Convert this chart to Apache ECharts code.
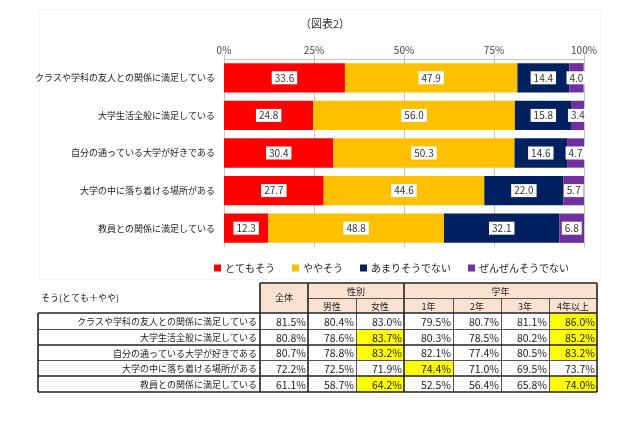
<!DOCTYPE html>
<html><head><meta charset="utf-8">
<script src="https://cdn.jsdelivr.net/npm/echarts@6/dist/echarts.min.js"></script>
<style>html,body{margin:0;padding:0;background:#fff}#main{width:640px;height:426px}</style>
</head><body><div id="main"></div>
<script>
// ---------- data ----------
const chartTitle = '（図表2）';
const categories = [
  'クラスや学科の友人との関係に満足している',
  '大学生活全般に満足している',
  '自分の通っている大学が好きである',
  '大学の中に落ち着ける場所がある',
  '教員との関係に満足している'
];
const seriesNames = ['とてもそう', 'ややそう', 'あまりそうでない', 'ぜんぜんそうでない'];
const totemo = [33.6, 24.8, 30.4, 27.7, 12.3];
const yaya   = [47.9, 56.0, 50.3, 44.6, 48.8];
const amari  = [14.4, 15.8, 14.6, 22.0, 32.1];
const zenzen = [4.0, 3.4, 4.7, 5.7, 6.8];
const seriesColors = ['#FF0000', '#FFC000', '#002060', '#7030A0'];

const tableCaption = 'そう(とても＋やや)';
const tableColumns = ['全体', '男性', '女性', '1年', '2年', '3年', '4年以上'];
const tableGroups = [{ name: '性別', from: 1, to: 2 }, { name: '学年', from: 3, to: 6 }];
const colAll   = [81.5, 80.8, 80.7, 72.2, 61.1];
const colMale  = [80.4, 78.6, 78.8, 72.5, 58.7];
const colFemale= [83.0, 83.7, 83.2, 71.9, 64.2];
const colY1    = [79.5, 80.3, 82.1, 74.4, 52.5];
const colY2    = [80.7, 78.5, 77.4, 71.0, 56.4];
const colY3    = [81.1, 80.2, 80.5, 69.5, 65.8];
const colY4    = [86.0, 85.2, 83.2, 73.7, 74.0];
const tableValues = [colAll, colMale, colFemale, colY1, colY2, colY3, colY4];
const highlightCells = [[2,1],[2,2],[2,4],[3,3],[6,0],[6,1],[6,2],[6,4]];

// ---------- build ----------
const FONT = '"Noto Sans CJK JP", "Noto Sans", sans-serif';
const barData = [totemo, yaya, amari, zenzen];

const cellData = [];
tableValues.forEach((col, c) => col.forEach((v, r) => {
  const h = highlightCells.some(p => p[0] === c && p[1] === r) ? 1 : 0;
  cellData.push([c, r, v, h]);
}));

function renderCell(params, api) {
  const c = api.value(0), r = api.value(1), v = api.value(2), h = api.value(3);
  const p = api.coord([c, r]);
  const s = api.size([1, 1]);
  const x0 = Math.round(p[0] - s[0] / 2), x1 = Math.round(p[0] + s[0] / 2);
  const y0 = Math.round(p[1] - s[1] / 2), y1 = Math.round(p[1] + s[1] / 2);
  return {
    type: 'group',
    children: [
      { type: 'rect', shape: { x: x0, y: y0, width: x1 - x0, height: y1 - y0 },
        style: { fill: h ? '#FFFF00' : '#FFFFFF', stroke: null } },
      { type: 'text', style: { text: v.toFixed(1) + '%', x: x1 - 2, y: (y0 + y1) / 2 + 1,
        align: 'right', verticalAlign: 'middle', font: '10.5px ' + FONT, fill: '#222' } }
    ]
  };
}

function renderFrame(params, api) {
  const p0 = api.coord([0, 0]);
  const s = api.size([1, 1]);
  const cw = s[0], rh = s[1];
  const nC = tableColumns.length, nR = categories.length;
  const X = i => Math.round(p0[0] - cw / 2 + cw * i);
  const Y = j => Math.round(p0[1] - rh / 2 + rh * j);
  const hh = 15, lx = 38;
  const top = Y(0) - 2 * hh, mid = Y(0) - hh;
  const ch = [];
  const txt = (t, x, y, align, size) => ch.push({ type: 'text', style: { text: t, x, y,
    align: align || 'center', verticalAlign: 'middle', font: (size || 9) + 'px ' + FONT, fill: '#222' } });
  const line = (x1, y1, x2, y2, w, col) => ch.push({ type: 'line',
    shape: { x1, y1, x2, y2 }, style: { stroke: col || '#222', lineWidth: w } });
  // header background
  ch.push({ type: 'rect', shape: { x: X(0), y: top, width: X(nC) - X(0), height: 2 * hh },
    style: { fill: '#FBE2D0' } });
  txt(tableCaption, 41, mid, 'left', 9);
  txt(tableColumns[0], (X(0) + X(1)) / 2, mid, 'center', 9);
  tableGroups.forEach(g => txt(g.name, (X(g.from) + X(g.to + 1)) / 2, top + hh / 2 + 1, 'center', 9));
  for (let i = 1; i < nC; i++) txt(tableColumns[i], (X(i) + X(i + 1)) / 2, mid + hh / 2 + 1, 'center', 9);
  // row label column
  for (let r = 0; r < nR; r++) txt(categories[r], X(0) - 3, (Y(r) + Y(r + 1)) / 2 + 1, 'right', 9);
  // thin lines
  line(X(1), mid + 0.5, X(nC), mid + 0.5, 1, '#555');
  [2, 4, 5, 6].forEach(i => line(X(i) + 0.5, mid, X(i) + 0.5, Y(nR), 1, '#555'));
  [1, 3].forEach(j => line(lx, Y(j) + 0.5, X(nC), Y(j) + 0.5, 1, '#555'));
  // thick lines
  [2, 4].forEach(j => line(lx, Y(j), X(nC), Y(j), 1.6));
  [1, 3].forEach(i => line(X(i), top, X(i), Y(nR), 1.6));
  line(X(0), top, X(0), Y(nR), 1.6);
  line(X(0), top, X(nC), top, 1.6);
  line(X(nC), top, X(nC), Y(nR), 1.6);
  line(lx, Y(0), X(nC), Y(0), 1.6);
  line(lx, Y(nR), X(nC), Y(nR), 1.6);
  line(lx, Y(0), lx, Y(nR), 1.6);
  return { type: 'group', children: ch };
}

const chart = echarts.init(document.getElementById('main'), null, { renderer: 'canvas' });
chart.setOption({
  animation: false,
  backgroundColor: '#fff',
  textStyle: { fontFamily: FONT },
  title: { text: chartTitle, left: 320, textAlign: 'center', top: 13,
    textStyle: { fontSize: 11, fontWeight: 'normal', color: '#333', fontFamily: FONT } },
  graphic: [{ type: 'rect', left: 37, top: 7, shape: { width: 561, height: 270 },
    style: { fill: null, stroke: '#f3f3f3', lineWidth: 1 }, silent: true, z: -1 }],
  legend: { data: seriesNames, left: 209, top: 258, itemWidth: 7, itemHeight: 7, itemGap: 17,
    icon: 'rect', textStyle: { fontSize: 10, color: '#222', fontFamily: FONT, padding: [0, 0, 0, -1] } },
  grid: [
    { left: 224, width: 360, top: 59, height: 188, containLabel: false },
    { left: 260, right: 43, top: 313, height: 79, containLabel: false }
  ],
  xAxis: [
    { type: 'value', gridIndex: 0, position: 'top', min: 0, max: 100, interval: 25,
      axisLabel: { formatter: '{value}%', fontSize: 10, color: '#444', margin: 4, fontFamily: FONT },
      axisLine: { show: true, lineStyle: { color: '#c4c4c4' } },
      axisTick: { show: true, length: 4, lineStyle: { color: '#c4c4c4' } },
      splitLine: { show: true, lineStyle: { color: '#c4c4c4' } } },
    { type: 'category', gridIndex: 1, data: tableColumns, show: false }
  ],
  yAxis: [
    { type: 'category', gridIndex: 0, data: categories, inverse: true,
      axisLine: { show: false }, axisTick: { show: false },
      axisLabel: { fontSize: 9, color: '#222', margin: 9, fontFamily: FONT } },
    { type: 'category', gridIndex: 1, data: categories, inverse: true, show: false }
  ],
  series: [
    ...seriesNames.map((n, i) => ({
      name: n, type: 'bar', stack: 'total', xAxisIndex: 0, yAxisIndex: 0,
      data: barData[i], barCategoryGap: '22%',
      itemStyle: { color: seriesColors[i] },
      label: { show: true, position: 'inside', formatter: p => p.value.toFixed(1),
        fontSize: 10, color: '#333', backgroundColor: '#fff', padding: [2, 3, 1, 3], fontFamily: FONT }
    })),
    { type: 'custom', name: 'cells', xAxisIndex: 1, yAxisIndex: 1, data: cellData,
      encode: { x: 0, y: 1 }, renderItem: renderCell, clip: false, silent: true, z: 2 },
    { type: 'custom', name: 'frame', xAxisIndex: 1, yAxisIndex: 1, data: [[0, 0]],
      encode: { x: 0, y: 1 }, renderItem: renderFrame, clip: false, silent: true, z: 3 }
  ]
});
</script></body></html>
